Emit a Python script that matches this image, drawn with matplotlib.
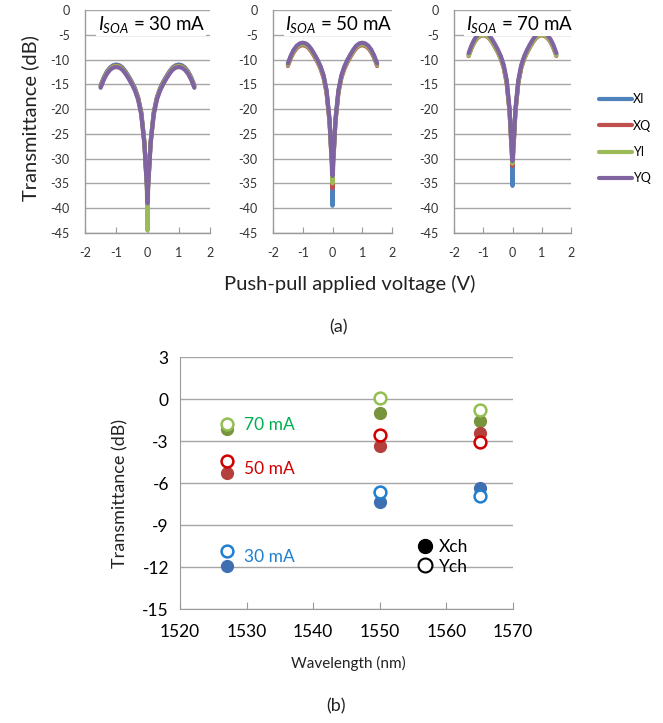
import matplotlib
matplotlib.use("Agg")
import matplotlib.pyplot as plt
from matplotlib.lines import Line2D

plt.rcParams['font.family'] = ['Lato', 'DejaVu Sans']
plt.rcParams['mathtext.fontset'] = 'custom'
plt.rcParams['mathtext.it'] = 'Lato:italic'
plt.rcParams['mathtext.rm'] = 'Lato'
plt.rcParams['axes.unicode_minus'] = False

# ---------------- data: panel (a) ----------------
voltage = [-1.5, -1.4, -1.3, -1.2, -1.1, -1.0, -0.9, -0.8, -0.7, -0.6, -0.5, -0.4, -0.3, -0.2, -0.1,
           -0.05, -0.02, 0, 0.02, 0.05, 0.1, 0.2, 0.3, 0.4, 0.5, 0.6, 0.7, 0.8, 0.9, 1.0, 1.1, 1.2,
           1.3, 1.4, 1.5]
series_names = ['XI', 'XQ', 'YI', 'YQ']
panel_titles = ['30 mA', '50 mA', '70 mA']

t30_XI = [-15.2, -13.6, -12.4, -11.6, -11.15, -11.0, -11.15, -11.6, -12.4, -13.4, -14.5, -15.8, -17.6, -20.6, -26.5,
          -32.0, -35.0, -39.5, -35.0, -32.0, -26.5, -20.6, -17.6, -15.8, -14.5, -13.4, -12.4, -11.6, -11.15, -11.0,
          -11.15, -11.6, -12.4, -13.6, -15.2]
t30_XQ = [-15.4, -13.8, -12.6, -11.8, -11.35, -11.2, -11.35, -11.8, -12.6, -13.6, -14.7, -16.0, -17.8, -20.8, -26.7,
          -32.2, -35.2, -39.0, -35.2, -32.2, -26.7, -20.8, -17.8, -16.0, -14.7, -13.6, -12.6, -11.8, -11.35, -11.2,
          -11.35, -11.8, -12.6, -13.8, -15.4]
t30_YI = [-15.5, -13.9, -12.7, -11.9, -11.45, -11.3, -11.45, -11.9, -12.7, -13.7, -14.8, -16.1, -17.9, -20.9, -26.8,
          -32.3, -36.0, -44.5, -36.0, -32.3, -26.8, -20.9, -17.9, -16.1, -14.8, -13.7, -12.7, -11.9, -11.45, -11.3,
          -11.45, -11.9, -12.7, -13.9, -15.5]
t30_YQ = [-15.7, -14.1, -12.9, -12.1, -11.65, -11.5, -11.65, -12.1, -12.9, -13.9, -15.0, -16.3, -18.1, -21.1, -27.0,
          -32.5, -35.5, -39.0, -35.5, -32.5, -27.0, -21.1, -18.1, -16.3, -15.0, -13.9, -12.9, -12.1, -11.65, -11.5,
          -11.65, -12.1, -12.9, -14.1, -15.7]

t50_XI = [-10.9, -9.3, -8.1, -7.3, -6.85, -6.7, -6.85, -7.3, -8.1, -9.1, -10.2, -11.5, -13.3, -16.3, -22.2,
          -27.7, -30.7, -39.5, -30.7, -27.7, -22.2, -16.3, -13.3, -11.5, -10.2, -9.1, -8.1, -7.3, -6.85, -6.7,
          -6.85, -7.3, -8.1, -9.3, -10.9]
t50_XQ = [-11.3, -9.7, -8.5, -7.7, -7.25, -7.1, -7.25, -7.7, -8.5, -9.5, -10.6, -11.9, -13.7, -16.7, -22.6,
          -28.1, -31.1, -36.0, -31.1, -28.1, -22.6, -16.7, -13.7, -11.9, -10.6, -9.5, -8.5, -7.7, -7.25, -7.1,
          -7.25, -7.7, -8.5, -9.7, -11.3]
t50_YI = [-11.1, -9.5, -8.3, -7.5, -7.05, -6.9, -7.05, -7.5, -8.3, -9.3, -10.4, -11.7, -13.5, -16.5, -22.4,
          -27.9, -30.9, -35.0, -30.9, -27.9, -22.4, -16.5, -13.5, -11.7, -10.4, -9.3, -8.3, -7.5, -7.05, -6.9,
          -7.05, -7.5, -8.3, -9.5, -11.1]
t50_YQ = [-10.8, -9.2, -8.0, -7.2, -6.75, -6.6, -6.75, -7.2, -8.0, -9.0, -10.1, -11.4, -13.2, -16.2, -22.1,
          -27.6, -30.6, -33.5, -30.6, -27.6, -22.1, -16.2, -13.2, -11.4, -10.1, -9.0, -8.0, -7.2, -6.75, -6.6,
          -6.75, -7.2, -8.0, -9.2, -10.8]

t70_XI = [-9.0, -7.4, -6.2, -5.4, -4.95, -4.8, -4.95, -5.4, -6.2, -7.2, -8.3, -9.6, -11.4, -14.4, -20.3,
          -25.8, -28.8, -35.5, -28.8, -25.8, -20.3, -14.4, -11.4, -9.6, -8.3, -7.2, -6.2, -5.4, -4.95, -4.8,
          -4.95, -5.4, -6.2, -7.4, -9.0]
t70_XQ = [-9.3, -7.7, -6.5, -5.7, -5.25, -5.1, -5.25, -5.7, -6.5, -7.5, -8.6, -9.9, -11.7, -14.7, -20.6,
          -26.1, -29.1, -31.5, -29.1, -26.1, -20.6, -14.7, -11.7, -9.9, -8.6, -7.5, -6.5, -5.7, -5.25, -5.1,
          -5.25, -5.7, -6.5, -7.7, -9.3]
t70_YI = [-9.2, -7.6, -6.4, -5.6, -5.15, -5.0, -5.15, -5.6, -6.4, -7.4, -8.5, -9.8, -11.6, -14.6, -20.5,
          -26.0, -29.0, -31.0, -29.0, -26.0, -20.5, -14.6, -11.6, -9.8, -8.5, -7.4, -6.4, -5.6, -5.15, -5.0,
          -5.15, -5.6, -6.4, -7.6, -9.2]
t70_YQ = [-8.7, -7.1, -5.9, -5.1, -4.65, -4.5, -4.65, -5.1, -5.9, -6.9, -8.0, -9.3, -11.1, -14.1, -20.0,
          -25.5, -28.5, -30.5, -28.5, -25.5, -20.0, -14.1, -11.1, -9.3, -8.0, -6.9, -5.9, -5.1, -4.65, -4.5,
          -4.65, -5.1, -5.9, -7.1, -8.7]

# ---------------- data: panel (b) ----------------
wavelength = [1527, 1550, 1565]
x70 = [-2.15, -1.0, -1.55]
y70 = [-1.75, 0.05, -0.75]
x50 = [-5.25, -3.35, -2.45]
y50 = [-4.45, -2.55, -3.05]
x30 = [-11.9, -7.35, -6.35]
y30 = [-10.85, -6.65, -6.9]
current_labels = ['70 mA', '50 mA', '30 mA']

# ---------------- styles ----------------
line_colors = {'XI': '#4F81BD', 'XQ': '#C0504D', 'YI': '#9BBB59', 'YQ': '#8064A2'}
grid_c = '#A6A6A6'
spine_c = '#9A9A9A'

W, H = 663, 723
fig = plt.figure(figsize=(W / 100, H / 100), dpi=100)

def frac(x0, y0, x1, y1):
    return [x0 / W, 1 - y1 / H, (x1 - x0) / W, (y1 - y0) / H]

panels = [
    (frac(85, 10, 210, 233), [t30_XI, t30_XQ, t30_YI, t30_YQ], panel_titles[0]),
    (frac(273, 10, 392, 233), [t50_XI, t50_XQ, t50_YI, t50_YQ], panel_titles[1]),
    (frac(454, 10, 571, 233), [t70_XI, t70_XQ, t70_YI, t70_YQ], panel_titles[2]),
]

handles = []
for rect, data, title in panels:
    ax = fig.add_axes(rect)
    ax.set_xlim(-2, 2)
    ax.set_ylim(-45, 0)
    ax.set_yticks(range(-45, 1, 5))
    ax.set_xticks([-2, -1, 0, 1, 2])
    ax.yaxis.grid(True, color=grid_c, lw=1.0)
    ax.set_axisbelow(True)
    for s in ['top', 'right']:
        ax.spines[s].set_visible(False)
    for s in ['left', 'bottom']:
        ax.spines[s].set_color(spine_c)
        ax.spines[s].set_linewidth(1.0)
    ax.tick_params(axis='x', direction='in', length=4, color=spine_c, labelsize=9,
                   labelcolor='#333333', pad=10)
    ax.tick_params(axis='y', length=0, labelsize=9, labelcolor='#333333', pad=11)
    hs = []
    for name, vals in zip(series_names, data):
        h, = ax.plot(voltage, vals, color=line_colors[name], lw=3.0, solid_capstyle='round',
                     solid_joinstyle='round', label=name)
        hs.append(h)
    handles = hs
    ax.text(-1.6, -2.9, r'$I_{SOA}$ = ' + title, fontsize=13.5, va='center', ha='left',
            bbox=dict(facecolor='white', edgecolor='none', pad=1.0), zorder=5)

fig.legend(handles=handles, labels=series_names, loc='upper left',
           bbox_to_anchor=(588 / W, 1 - 82 / H), frameon=False, fontsize=9,
           handlelength=2.6, handletextpad=0.1, labelspacing=1.15)

fig.text(30 / W, 1 - 118 / H, 'Transmittance (dB)', rotation=90, ha='center', va='center',
         fontsize=14.5, color='#222222')
fig.text(350 / W, 1 - 284 / H, 'Push-pull applied voltage (V)', ha='center', va='center',
         fontsize=14.5, color='#222222')
fig.text(338 / W, 1 - 327 / H, '(a)', ha='center', va='center', fontsize=13, color='#222222')

# ---------------- panel (b) ----------------
bx = fig.add_axes(frac(180, 357, 513, 609))
bx.set_xlim(1520, 1570)
bx.set_ylim(-15, 3)
bx.set_yticks(range(-15, 4, 3))
bx.set_xticks(range(1520, 1571, 10))
bx.yaxis.grid(True, color=grid_c, lw=1.0)
bx.set_axisbelow(True)
for s in ['top', 'right']:
    bx.spines[s].set_visible(False)
for s in ['left', 'bottom']:
    bx.spines[s].set_color(spine_c)
bx.tick_params(axis='x', direction='in', length=5, color=spine_c, labelsize=12.5, pad=11)
bx.tick_params(axis='y', length=0, labelsize=12.5, pad=8)

ms = 8.5
pt_sets = [
    (x70, y70, '#77933C', '#92C050'),
    (x50, y50, '#B3403D', '#D00000'),
    (x30, y30, '#3F6FB0', '#1F7FD0'),
]
for xs, ys, fc, oc in pt_sets:
    bx.plot(wavelength, xs, 'o', ms=ms, color=fc, mec=fc, ls='none', zorder=3)
    bx.plot(wavelength, ys, 'o', ms=ms, mfc='white', mec=oc, mew=1.8, ls='none', zorder=4)

label_colors = ['#00B050', '#D00000', '#1F7FD0']
label_pos_y = [-1.85, -5.0, -11.3]
for lab, c, yy in zip(current_labels, label_colors, label_pos_y):
    bx.text(1529.6, yy, lab, color=c, fontsize=12.5, va='center', ha='left')

leg_h = [Line2D([], [], marker='o', ls='none', ms=10, color='black'),
         Line2D([], [], marker='o', ls='none', ms=10, mfc='white', mec='black', mew=1.5)]
bx.legend(handles=leg_h, labels=['Xch', 'Ych'], loc='upper left', bbox_to_anchor=(0.685, 0.305),
          frameon=False, fontsize=12.5, handletextpad=0.15, labelspacing=0.2, borderaxespad=0,
          handlelength=1.2)

fig.text(120 / W, 1 - 494 / H, 'Transmittance (dB)', rotation=90, ha='center', va='center',
         fontsize=13, color='#222222')
fig.text(348 / W, 1 - 663 / H, 'Wavelength (nm)', ha='center', va='center', fontsize=11,
         color='#222222')
fig.text(336 / W, 1 - 706 / H, '(b)', ha='center', va='center', fontsize=13, color='#222222')

fig.savefig('out.png', dpi=100, facecolor='white')
